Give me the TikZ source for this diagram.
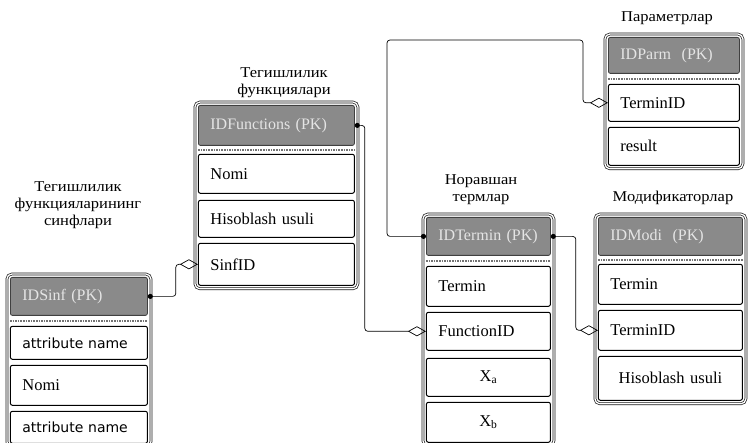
\documentclass[tikz,border=0pt]{standalone}
\usepackage{fontspec}
\setmainfont{Liberation Serif}
\newfontfamily\attrfont{DejaVu Sans}
\newfontfamily\capfont[FakeStretch=1.1]{Liberation Serif}
\usetikzlibrary{arrows.meta,positioning,fit,backgrounds}

\begin{document}
\begin{tikzpicture}[
    x=1pt, y=-1pt,
    % --- STYLES ---
    caption/.style={align=center, font=\capfont\fontsize{15}{17}\selectfont},
    hdr/.style={
        rectangle, rounded corners=2pt,
        draw=black!75, fill=black!46,
        line width=0.8pt, text=white!90!black,
        text width=#1, align=left,
        inner xsep=12pt, anchor=north west,
        font=\fontsize{16}{18}\selectfont
    },
    field/.style={
        rectangle, rounded corners=2pt,
        draw=black, fill=white, line width=1pt,
        text width=#1, align=left,
        inner xsep=12pt,
        font=\fontsize{16.5}{18}\selectfont
    },
    attr/.style={font=\attrfont\fontsize{14}{15}\selectfont},
    table/.style={
        rectangle, rounded corners=5pt,
        draw=black!90, line width=0.7pt,
        double=white, double distance=1.3pt,
        fill=white, inner sep=3pt
    },
    sep/.style={densely dotted, line width=1.6pt, black!55},
    link/.style={
        line width=0.7pt, rounded corners=3pt,
        {Circle[length=5pt]}-{Diamond[open,length=18pt,width=10pt]}
    }
]
\clip (0,0) rectangle (750,443);

% ===== 1. SINF TABLE =====
\node[caption] (sf_cap) at (78,205) {Тегишлилик\\функцияларининг\\синфлари};
\node[hdr=113pt, minimum height=38pt] (sf_h) at (10,277) {IDSinf (PK)};
\node[field=113pt, minimum height=33pt, attr, below=10pt of sf_h] (sf_f1) {attribute name};
\node[field=113pt, minimum height=40pt, below=5pt of sf_f1] (sf_f2) {Nomi};
\node[field=113pt, minimum height=32pt, attr, below=5pt of sf_f2] (sf_f3) {attribute name};
\draw[sep] ([yshift=-5pt]sf_h.south west) -- ([yshift=-5pt]sf_h.south east);

% ===== 2. FUNCTION TABLE =====
\node[caption] (fn_cap) at (284,83) {Тегишлилик\\функциялари};
\node[hdr=132pt, minimum height=40pt] (fn_h) at (198,105) {IDFunctions (PK)};
\node[field=132pt, minimum height=39pt, below=8pt of fn_h] (fn_f1) {Nomi};
\node[field=132pt, minimum height=37pt, below=6pt of fn_f1] (fn_f2) {Hisoblash usuli};
\node[field=132pt, minimum height=42pt, below=5pt of fn_f2] (fn_f3) {SinfID};
\draw[sep] ([yshift=-4pt]fn_h.south west) -- ([yshift=-4pt]fn_h.south east);

% ===== 3. TERMIN TABLE =====
\node[caption] (tm_cap) at (481,190) {Норавшан\\термлар};
\node[hdr=100pt, minimum height=38pt] (tm_h) at (426,217) {IDTermin (PK)};
\node[field=100pt, minimum height=40pt, below=10pt of tm_h] (tm_f1) {Termin};
\node[field=100pt, minimum height=38pt, below=5pt of tm_f1] (tm_f2) {FunctionID};
\node[field=100pt, minimum height=38pt, align=center, below=7pt of tm_f2] (tm_f3) {X\textsubscript{a}};
\node[field=100pt, minimum height=40pt, align=center, below=5pt of tm_f3] (tm_f4) {X\textsubscript{b}};
\draw[sep] ([yshift=-5pt]tm_h.south west) -- ([yshift=-5pt]tm_h.south east);

% ===== 4. MODIFIKATOR TABLE =====
\node[caption] (md_cap) at (673,198) {Модификаторлар};
\node[hdr=120pt, minimum height=38pt] (md_h) at (598,217) {IDModi~~(PK)};
\node[field=120pt, minimum height=40pt, below=8pt of md_h] (md_f1) {Termin};
\node[field=120pt, minimum height=40pt, below=5pt of md_f1] (md_f2) {TerminID};
\node[field=120pt, minimum height=44pt, align=center, below=5pt of md_f2] (md_f3) {Hisoblash usuli};
\draw[sep] ([yshift=-4pt]md_h.south west) -- ([yshift=-4pt]md_h.south east);

% ===== 5. PARAMETR TABLE =====
\node[caption] (pm_cap) at (667,18) {Параметрлар};
\node[hdr=107pt, minimum height=36pt] (pm_h) at (608,37) {IDParm~~(PK)};
\node[field=107pt, minimum height=37pt, below=10pt of pm_h] (pm_f1) {TerminID};
\node[field=107pt, minimum height=38pt, below=5pt of pm_f1] (pm_f2) {result};
\draw[sep] ([yshift=-5pt]pm_h.south west) -- ([yshift=-5pt]pm_h.south east);

% --- outer frames ---
\begin{scope}[on background layer]
    \node[table, fit=(sf_h)(sf_f3)] (sf) {};
    \node[table, fit=(fn_h)(fn_f3)] (fn) {};
    \node[table, fit=(tm_h)(tm_f4)] (tm) {};
    \node[table, fit=(md_h)(md_f3)] (md) {};
    \node[table, fit=(pm_h)(pm_f2)] (pm) {};
\end{scope}

% ===== 6. CONNECTIONS =====
\draw[link] (sf_h.east) -- ++(28,0) |- (fn_f3.west);
\draw[link] (fn_h.east) -- ++(10,0) |- (tm_f2.west);
\draw[link] (tm_h.west) -- ++(-39,0) |- (583,40) |- (pm_f1.west);
\draw[link] (tm_h.east) -- ++(25,0) |- (md_f2.west);

\end{tikzpicture}
\end{document}
